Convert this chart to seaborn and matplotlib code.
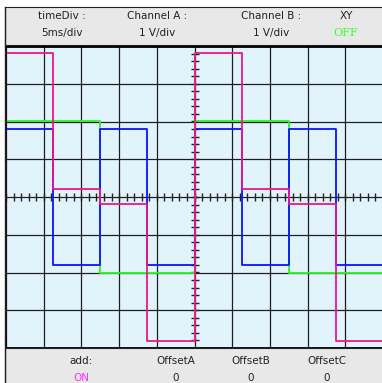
import numpy as np
import pandas as pd
import matplotlib
matplotlib.use("Agg")
import matplotlib.pyplot as plt
import seaborn as sns
from matplotlib.patches import Rectangle
from matplotlib.lines import Line2D

# waveforms: switch times (ms) and levels (V) for each segment
green_switch = [0, 12.5, 25, 37.5, 50]
green_level = [2.02, -2.0, 2.02, -2.0]
blue_switch = [0, 6.25, 12.5, 18.75, 25, 31.25, 37.5, 43.75, 50]
blue_level = [1.8, -1.8, 1.8, -1.8, 1.8, -1.8, 1.8, -1.8]
pink_switch = [0, 6.25, 12.5, 18.75, 25, 31.25, 37.5, 43.75, 50]
pink_level = [3.82, 0.22, -0.18, -3.82, 3.82, 0.22, -0.18, -3.82]

header_top = ["timeDiv :", "Channel A :", "Channel B :", "XY"]
header_bottom = ["5ms/div", "1 V/div", "1 V/div", "OFF"]
footer_top = ["add:", "OffsetA", "OffsetB", "OffsetC"]
footer_bottom = ["ON", "0", "0", "0"]


def steps(switch, level, name, start=None):
    t, v = [], []
    if start is not None:
        t.append(switch[0])
        v.append(start)
    for i, lv in enumerate(level):
        t += [switch[i], switch[i + 1]]
        v += [lv, lv]
    return pd.DataFrame({"t": t, "v": v, "ch": name})


df = pd.concat([
    steps(green_switch, green_level, "A"),
    steps(blue_switch, blue_level, "B", start=blue_level[-1]),
    steps(pink_switch, pink_level, "add", start=pink_level[-1]),
], ignore_index=True)

W, H = 382, 383
fig = plt.figure(figsize=(W / 100, H / 100), dpi=100)
fig.patch.set_facecolor("white")


def fx(px):
    return px / W


def fy(py):
    return 1 - py / H


# header / footer boxes
fig.patches.append(Rectangle((fx(5), fy(45)), (W - 5) / W + 0.01, 38 / H,
                             transform=fig.transFigure, facecolor="#e8e8e8",
                             edgecolor="#222222", lw=0.8))
fig.patches.append(Rectangle((fx(5), -0.01), (W - 5) / W + 0.01, (H - 348) / H + 0.01,
                             transform=fig.transFigure, facecolor="#e8e8e8",
                             edgecolor="#222222", lw=0.8))

ax = fig.add_axes([fx(6), fy(348), 377 / W, 302 / H])
ax.set_facecolor("#e2f4fb")
ax.set_xlim(0, 50)
ax.set_ylim(-4, 4)
ax.set_xticks(np.arange(0, 51, 5))
ax.set_yticks(np.arange(-4, 5, 1))
ax.grid(True, color="#1e1e1e", lw=0.9)
ax.set_axisbelow(True)
ax.tick_params(length=0, labelbottom=False, labelleft=False)
for s in ["right"]:
    ax.spines[s].set_visible(False)
ax.spines["left"].set_linewidth(1.2)
ax.spines["top"].set_linewidth(2.0)
ax.spines["bottom"].set_linewidth(2.0)

# centre cross with small division ticks
tx = np.arange(0, 50.01, 1)
ty = np.arange(-4, 4.01, 0.2)
ax.plot(tx, np.zeros_like(tx), ls="none", marker="|", ms=5.5, mew=1.0, color="#222222")
ax.plot(np.full_like(ty, 25), ty, ls="none", marker="_", ms=5.5, mew=1.0, color="#222222")

sns.lineplot(data=df, x="t", y="v", hue="ch", hue_order=["A", "B", "add"],
             palette={"A": "#2ef02e", "B": "#0a14ff", "add": "#f0168c"},
             sort=False, estimator=None, legend=False, lw=1.3, ax=ax)
ax.set_xlabel("")
ax.set_ylabel("")

fig.lines.append(Line2D([fx(5), fx(5)], [fy(7), 0], transform=fig.transFigure,
                        color="#222222", lw=1.0))

font = "DejaVu Sans"
hx = [62, 157, 271, 346]
for i in range(4):
    fig.text(fx(hx[i]), fy(16), header_top[i], ha="center", va="center",
             fontsize=7.5, family=font, color="#222222")
    if header_bottom[i] == "OFF":
        fig.text(fx(hx[i]), fy(33), header_bottom[i], ha="center", va="center",
                 fontsize=8, family="DejaVu Serif", color="#33ff33")
    else:
        fig.text(fx(hx[i]), fy(33), header_bottom[i], ha="center", va="center",
                 fontsize=7.5, family=font, color="#222222")

bx = [81, 176, 251, 327]
for i in range(4):
    fig.text(fx(bx[i]), fy(361), footer_top[i], ha="center", va="center",
             fontsize=7.5, family=font, color="#222222")
    fig.text(fx(bx[i]), fy(378), footer_bottom[i], ha="center", va="center",
             fontsize=7.5, family=font,
             color="#ff33ff" if footer_bottom[i] == "ON" else "#222222")

fig.savefig("out.png", dpi=100)
